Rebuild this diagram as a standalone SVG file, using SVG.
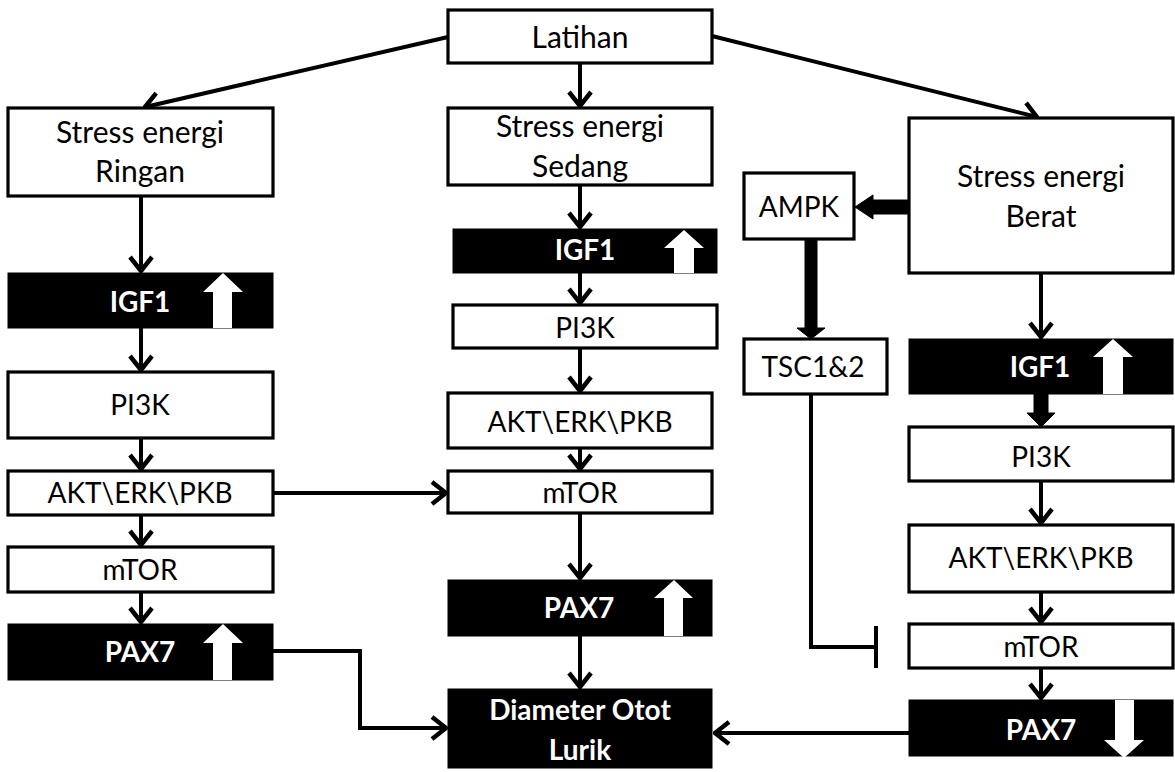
<svg xmlns="http://www.w3.org/2000/svg" width="1175" height="772" viewBox="0 0 1175 772">
<style>
.b{fill:#fff;stroke:#000;stroke-width:3.2}
.k{fill:#000;stroke:#000;stroke-width:1}
.t{font-family:Lato,"Open Sans","Liberation Sans",sans-serif;font-size:28px;fill:#000;text-anchor:middle}
.s{font-size:30px}
.w{font-family:Lato,"Open Sans","Liberation Sans",sans-serif;font-size:28px;font-weight:bold;fill:#fff;text-anchor:middle}
.c{fill:none;stroke:#000;stroke-width:4}
.ua{fill:#fff}
</style>
<defs>
<marker id="a" viewBox="-18 -13 20 26" markerWidth="20" markerHeight="26" refX="0" refY="0" orient="auto" markerUnits="userSpaceOnUse">
<path d="M-14,-11 L0,0 L-14,11" fill="none" stroke="#000" stroke-width="4.5"/>
</marker>
</defs>
<rect width="1175" height="772" fill="#fff"/>

<g id="connectors">
<line class="c" x1="448" y1="37" x2="145" y2="107" marker-end="url(#a)"/>
<line class="c" x1="580" y1="63" x2="580" y2="106" marker-end="url(#a)"/>
<line class="c" x1="712" y1="36" x2="1037" y2="117" marker-end="url(#a)"/>
<line class="c" x1="141" y1="196" x2="141" y2="271" marker-end="url(#a)"/>
<line class="c" x1="141" y1="328" x2="141" y2="370" marker-end="url(#a)"/>
<line class="c" x1="141" y1="438" x2="141" y2="469" marker-end="url(#a)"/>
<line class="c" x1="141" y1="515" x2="141" y2="545" marker-end="url(#a)"/>
<line class="c" x1="141" y1="592" x2="141" y2="622" marker-end="url(#a)"/>
<line class="c" x1="273" y1="493" x2="446" y2="493" marker-end="url(#a)"/>
<polyline class="c" points="273,651 360,651 360,728 446,728" marker-end="url(#a)"/>
<line class="c" x1="580" y1="185" x2="580" y2="227" marker-end="url(#a)"/>
<line class="c" x1="580" y1="273" x2="580" y2="303" marker-end="url(#a)"/>
<line class="c" x1="580" y1="348" x2="580" y2="391" marker-end="url(#a)"/>
<line class="c" x1="580" y1="448" x2="580" y2="469" marker-end="url(#a)"/>
<line class="c" x1="580" y1="513" x2="580" y2="578" marker-end="url(#a)"/>
<line class="c" x1="580" y1="636" x2="580" y2="687" marker-end="url(#a)"/>
<line class="c" x1="1041" y1="273" x2="1041" y2="337" marker-end="url(#a)"/>
<polygon class="k" points="1034,394 1048,394 1048,413 1055,413 1041,427 1027,413 1034,413"/>
<line class="c" x1="1041" y1="481" x2="1041" y2="523" marker-end="url(#a)"/>
<line class="c" x1="1041" y1="592" x2="1041" y2="622" marker-end="url(#a)"/>
<line class="c" x1="1041" y1="668" x2="1041" y2="698" marker-end="url(#a)"/>
<line class="c" x1="909" y1="733" x2="715" y2="733" marker-end="url(#a)"/>
<polygon class="k" points="909,200 873,200 873,195 855,207 873,219 873,214 909,214"/>
<polygon class="k" points="805,239 817,239 817,328 825,328 811,339 797,328 805,328"/>
<polyline class="c" points="811,394 811,647 876,647"/>
<line class="c" x1="876" y1="626" x2="876" y2="668"/>
</g>

<g id="latihan"><rect class="b" x="448" y="10" width="264" height="53"/><text class="t s" x="580" y="48">Latihan</text></g>
<g id="ringan"><rect class="b" x="8" y="108" width="265" height="88"/><text class="t s" x="140" y="143">Stress energi</text><text class="t s" x="140" y="182">Ringan</text></g>
<g id="sedang"><rect class="b" x="448" y="108" width="264" height="77"/><text class="t s" x="580" y="137">Stress energi</text><text class="t s" x="580" y="177">Sedang</text></g>
<g id="berat"><rect class="b" x="909" y="118" width="264" height="155"/><text class="t s" x="1041" y="187">Stress energi</text><text class="t s" x="1041" y="227">Berat</text></g>
<g id="ampk"><rect class="b" x="744" y="173" width="110" height="66"/><text class="t" x="799" y="217">AMPK</text></g>
<g id="tsc"><rect class="b" x="744" y="339" width="143" height="55"/><text class="t" x="813" y="377">TSC1&amp;2</text></g>

<g id="igf1-l"><rect class="k" x="8" y="273" width="265" height="55"/><text class="w" x="140" y="312">IGF1</text><polygon class="ua" points="213,328 232,328 232,292 243,292 223,273 203,292 213,292"/></g>
<g id="pi3k-l"><rect class="b" x="8" y="372" width="265" height="66"/><text class="t" x="140" y="415">PI3K</text></g>
<g id="akt-l"><rect class="b" x="8" y="471" width="265" height="44"/><text class="t" x="140" y="503">AKT\ERK\PKB</text></g>
<g id="mtor-l"><rect class="b" x="8" y="547" width="265" height="45"/><text class="t" x="140" y="580">mTOR</text></g>
<g id="pax7-l"><rect class="k" x="8" y="624" width="265" height="56"/><text class="w" x="140" y="662">PAX7</text><polygon class="ua" points="213,680 232,680 232,643 243,643 223,624 203,643 213,643"/></g>

<g id="igf1-m"><rect class="k" x="453" y="229" width="264" height="44"/><text class="w" x="585" y="260">IGF1</text><polygon class="ua" points="674,273 694,273 694,248 704,248 684,230 664,248 674,248"/></g>
<g id="pi3k-m"><rect class="b" x="453" y="305" width="264" height="43"/><text class="t" x="585" y="338">PI3K</text></g>
<g id="akt-m"><rect class="b" x="448" y="393" width="264" height="55"/><text class="t" x="580" y="432">AKT\ERK\PKB</text></g>
<g id="mtor-m"><rect class="b" x="448" y="471" width="264" height="42"/><text class="t" x="580" y="503">mTOR</text></g>
<g id="pax7-m"><rect class="k" x="448" y="580" width="264" height="56"/><text class="w" x="579" y="618">PAX7</text><polygon class="ua" points="664,636 683,636 683,598 693,598 674,580 654,598 664,598"/></g>
<g id="diameter"><rect class="k" x="448" y="689" width="264" height="79"/><text class="w" x="580" y="720">Diameter Otot</text><text class="w" x="580" y="760">Lurik</text></g>

<g id="igf1-r"><rect class="k" x="909" y="339" width="264" height="55"/><text class="w" x="1040" y="377">IGF1</text><polygon class="ua" points="1103,394 1123,394 1123,357 1133,357 1113,339 1093,357 1103,357"/></g>
<g id="pi3k-r"><rect class="b" x="909" y="427" width="264" height="54"/><text class="t" x="1041" y="467">PI3K</text></g>
<g id="akt-r"><rect class="b" x="909" y="525" width="264" height="67"/><text class="t" x="1041" y="568">AKT\ERK\PKB</text></g>
<g id="mtor-r"><rect class="b" x="909" y="624" width="264" height="44"/><text class="t" x="1041" y="657">mTOR</text></g>
<g id="pax7-r"><rect class="k" x="909" y="700" width="264" height="56"/><text class="w" x="1041" y="740">PAX7</text><polygon class="ua" points="1115,700 1134,700 1134,740 1144,740 1124,758 1104,740 1115,740"/></g>
</svg>
